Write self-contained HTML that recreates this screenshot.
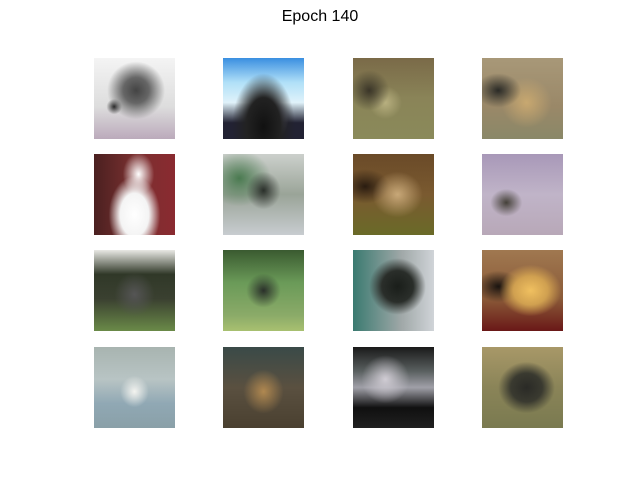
<!DOCTYPE html>
<html><head><meta charset="utf-8"><style>
body{margin:0;background:#fff;}
#fig{position:relative;width:640px;height:480px;background:#fff;overflow:hidden;}
#title{position:absolute;top:8px;left:0;width:640px;text-align:center;font:16px "Liberation Sans","DejaVu Sans",sans-serif;color:#000;}
.t{position:absolute;width:81px;height:81px;}
</style></head><body>
<div id="fig">
<div id="title">Epoch 140</div>
<div class="t" style="left:94px;top:58px;background:radial-gradient(circle at 52% 40%,#444 0,#666 20%,rgba(120,120,120,0) 45%),radial-gradient(circle at 25% 60%,#222 0,rgba(0,0,0,0) 10%),linear-gradient(#f4f4f4,#ddd 60%,#bbaabb)"></div>
<div class="t" style="left:223px;top:58px;background:radial-gradient(ellipse at 50% 85%,#111 0,#222 30%,rgba(0,0,0,0) 55%),radial-gradient(ellipse at 60% 75%,#aac 0,rgba(0,0,0,0) 25%),linear-gradient(#3a8fe0,#b0e0f8 30%,#e0f2fa 55%,#223 80%)"></div>
<div class="t" style="left:353px;top:58px;background:radial-gradient(circle at 20% 40%,#3a3528 0,rgba(0,0,0,0) 25%),radial-gradient(circle at 40% 55%,#b8b080 0,rgba(0,0,0,0) 25%),linear-gradient(#7a6a48,#8a8458 50%,#8a8a5a)"></div>
<div class="t" style="left:482px;top:58px;background:radial-gradient(ellipse at 20% 40%,#2a2a26 0,rgba(0,0,0,0) 25%),radial-gradient(ellipse at 55% 55%,#c8a870 0,rgba(0,0,0,0) 40%),linear-gradient(#a89878,#9a8868 60%,#8a8868)"></div>
<div class="t" style="left:94px;top:154px;background:radial-gradient(ellipse at 50% 75%,#fff 0,#f4f4f4 25%,rgba(255,255,255,0) 45%),radial-gradient(ellipse at 55% 25%,#fff 0,rgba(255,255,255,0) 25%),linear-gradient(90deg,#4a2020,#7a3030 50%,#8a2a30),linear-gradient(#000,#000)"></div>
<div class="t" style="left:223px;top:154px;background:radial-gradient(ellipse at 50% 45%,#2a2f2a 0,rgba(0,0,0,0) 30%),radial-gradient(ellipse at 20% 30%,#4a7a50 0,rgba(0,0,0,0) 35%),linear-gradient(#ccd0cc,#9aa498 50%,#c8ccd0)"></div>
<div class="t" style="left:353px;top:154px;background:radial-gradient(ellipse at 55% 50%,#c8a878 0,rgba(0,0,0,0) 40%),radial-gradient(ellipse at 15% 40%,#2a1c10 0,rgba(0,0,0,0) 25%),linear-gradient(#6a4a28,#7a5a30 50%,#6a6a28)"></div>
<div class="t" style="left:482px;top:154px;background:radial-gradient(ellipse at 30% 60%,#444038 0,rgba(0,0,0,0) 20%),linear-gradient(#a898b8,#c0b4c8 50%,#b8a8b8)"></div>
<div class="t" style="left:94px;top:250px;background:radial-gradient(ellipse at 50% 55%,#555 0,rgba(0,0,0,0) 35%),linear-gradient(#e8e8e4,#303828 30%,#3a4030 60%,#6a8a48)"></div>
<div class="t" style="left:223px;top:250px;background:radial-gradient(ellipse at 50% 50%,#2a302a 0,rgba(0,0,0,0) 30%),linear-gradient(#3a5a30,#6a9a58 40%,#8aaa68 80%,#a8c070)"></div>
<div class="t" style="left:353px;top:250px;background:radial-gradient(ellipse at 55% 45%,#1a1e1a 0,#2a2e2a 25%,rgba(0,0,0,0) 45%),linear-gradient(90deg,#3a7a70,#a0a8a8 60%,#d0d4d8),linear-gradient(#000,#000)"></div>
<div class="t" style="left:482px;top:250px;background:radial-gradient(ellipse at 60% 50%,#f0c060 0,#d0a050 25%,rgba(0,0,0,0) 45%),radial-gradient(ellipse at 20% 45%,#1a1410 0,rgba(0,0,0,0) 25%),linear-gradient(#a07850,#8a5a38 60%,#6a1818)"></div>
<div class="t" style="left:94px;top:347px;background:radial-gradient(ellipse at 50% 55%,#f4f4f0 0,rgba(255,255,255,0) 25%),linear-gradient(#a8b4b0,#b8c4c4 40%,#90a8b4 70%,#8aa0a8)"></div>
<div class="t" style="left:223px;top:347px;background:radial-gradient(ellipse at 50% 55%,#b08850 0,rgba(0,0,0,0) 35%),linear-gradient(#3a4a48,#5a5040 50%,#4a4030)"></div>
<div class="t" style="left:353px;top:347px;background:radial-gradient(ellipse at 40% 40%,#d0ccd4 0,rgba(255,255,255,0) 35%),linear-gradient(#1a1a1a,#5a6060 30%,#a0a0a8 50%,#101010 75%,#202020)"></div>
<div class="t" style="left:482px;top:347px;background:radial-gradient(ellipse at 55% 50%,#2a2a26 0,#3a3a30 25%,rgba(0,0,0,0) 45%),linear-gradient(#a89868,#8a8458 50%,#7a7a50)"></div>
</div>
</body></html>
